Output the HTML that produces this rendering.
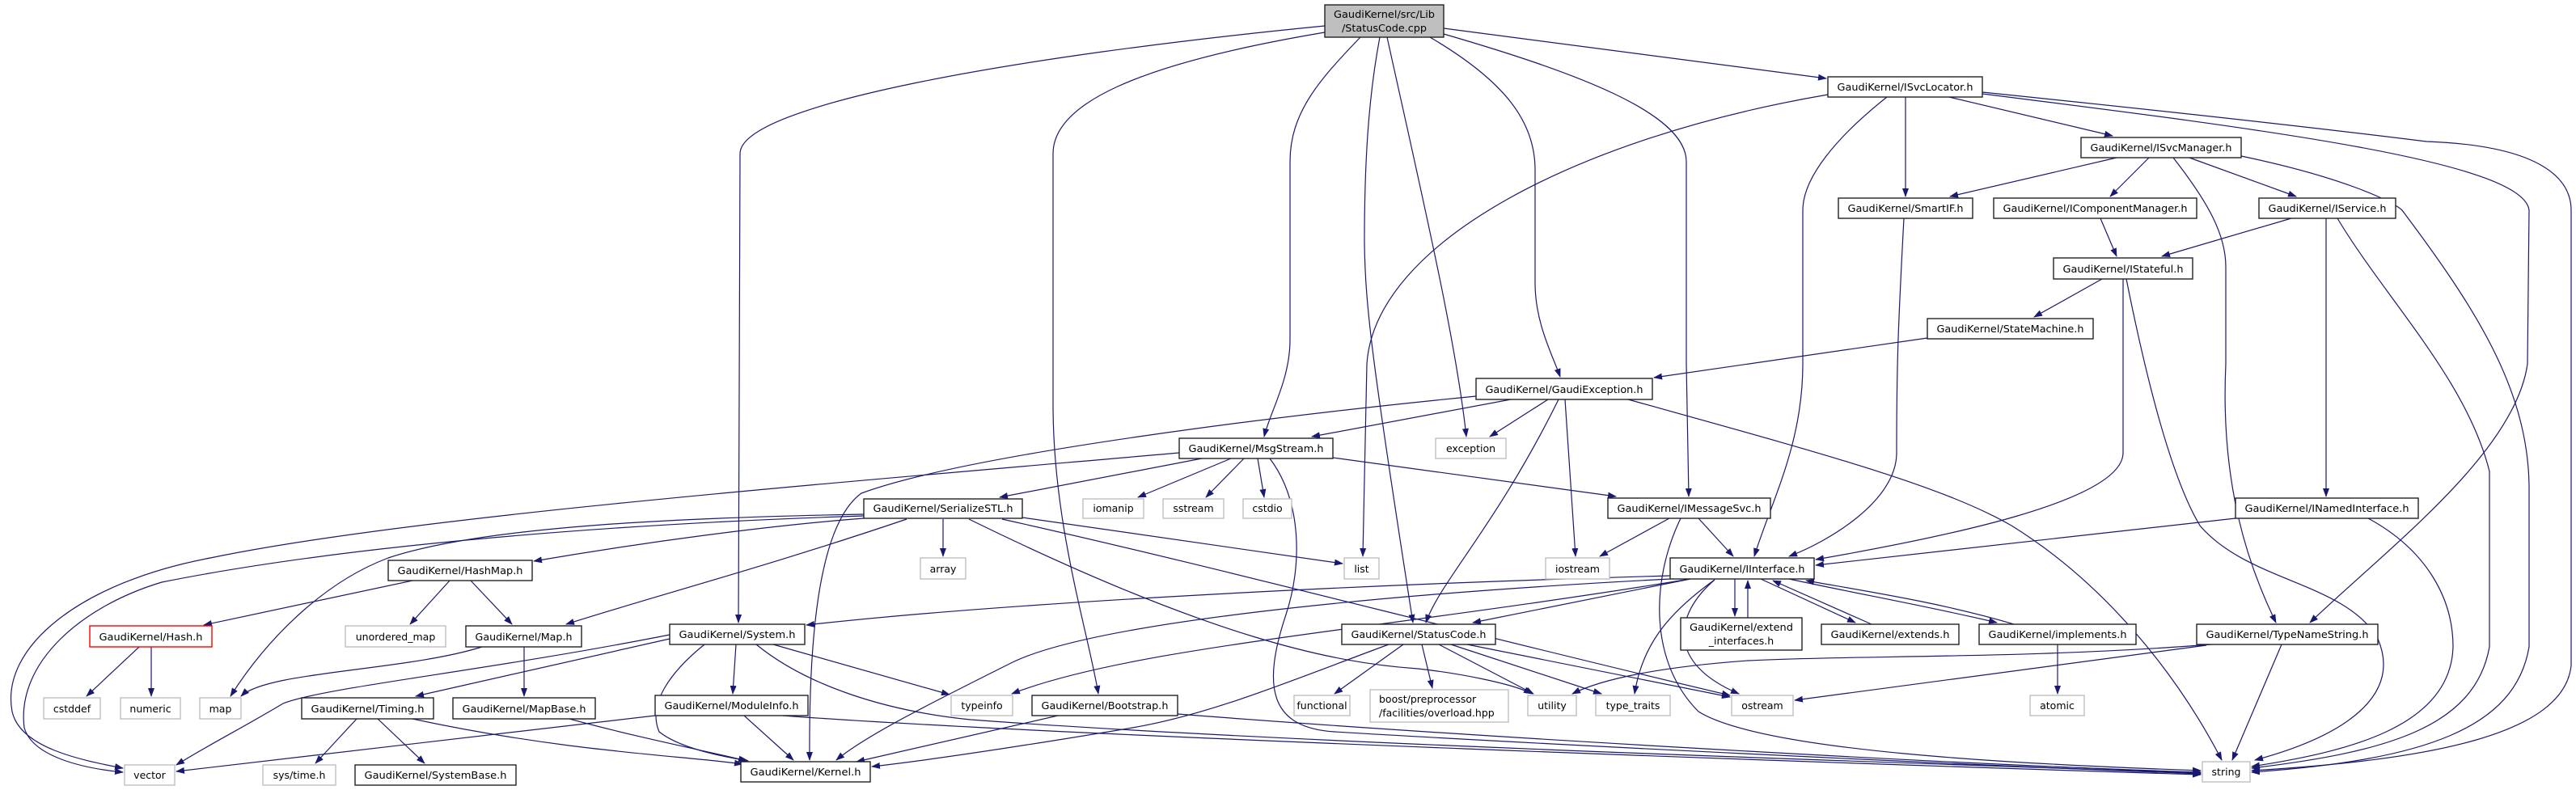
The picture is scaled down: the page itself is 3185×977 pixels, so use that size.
<!DOCTYPE html>
<html><head><meta charset="utf-8"><style>
html,body{margin:0;padding:0;background:#fff;}
svg{display:block;}
.e{fill:none;stroke:#191970;stroke-width:1.2;marker-end:url(#a);}
.n{fill:#fff;stroke:#222;stroke-width:1.4;}
.g{fill:#fff;stroke:#bfbfbf;stroke-width:1.4;}
text{font-family:"DejaVu Sans","Liberation Sans",sans-serif;font-size:12.5px;fill:#000;text-anchor:middle;}
</style></head><body>
<svg width="3185" height="977" viewBox="0 0 3185 977" xmlns="http://www.w3.org/2000/svg">
<defs><marker id="a" markerWidth="11" markerHeight="8" refX="10" refY="4" orient="auto" markerUnits="userSpaceOnUse"><path d="M0,0 L11,4 L0,8z" fill="#191970"/></marker></defs>
<g>
<path class="e" d="M1638,32 C1250,70 915,130 915,190 L913,770"/>
<path class="e" d="M1638,40 C1400,80 1302,130 1302,190 L1302,500 C1302,650 1345,780 1358,858"/>
<path class="e" d="M1682,46 C1630,100 1595,140 1595,200 L1595,420 C1595,470 1570,510 1563,540"/>
<path class="e" d="M1706,46 C1692,120 1687,200 1687,300 C1688,380 1697,450 1747,770"/>
<path class="e" d="M1715,46 C1760,250 1800,420 1813,540"/>
<path class="e" d="M1768,46 C1860,100 1898,150 1898,210 L1898,350 C1898,400 1920,440 1929,466"/>
<path class="e" d="M1785,42 C1950,90 2085,140 2085,200 L2085,450 L2088,614"/>
<path class="e" d="M1785,35 L2258,97"/>
<path class="e" d="M2260,117 C1950,170 1700,300 1690,450 L1685,688"/>
<path class="e" d="M2333,120 C2270,170 2229,220 2229,260 L2229,450 C2229,550 2190,620 2169,688"/>
<path class="e" d="M2356,120 L2356,243"/>
<path class="e" d="M2410,120 L2612,168"/>
<path class="e" d="M2451,116 C2800,160 3120,200 3127,260 L3125,450 C3110,560 2950,680 2856,770"/>
<path class="e" d="M2451,114 C2800,150 2960,170 3000,175 C3140,180 3179,220 3179,260 L3179,823 C3170,910 3000,940 2784,953"/>
<path class="e" d="M2617,195 L2411,243"/>
<path class="e" d="M2657,195 L2609,243"/>
<path class="e" d="M2707,195 L2839,243"/>
<path class="e" d="M2687,195 C2730,250 2752,290 2752,330 L2752,450 C2745,600 2780,700 2814,770"/>
<path class="e" d="M2771,193 C2900,220 2960,250 2970,260 C3060,380 3125,480 3127,600 L3127,800 C3110,900 3000,940 2784,955"/>
<path class="e" d="M2597,270 L2617,317"/>
<path class="e" d="M2833,270 L2673,317"/>
<path class="e" d="M2876,270 L2876,614"/>
<path class="e" d="M2890,270 C2950,370 3050,470 3078,583 L3078,800 C3060,900 2950,930 2784,950"/>
<path class="e" d="M2599,345 L2515,392"/>
<path class="e" d="M2625,345 L2625,560 C2625,620 2400,665 2245,692"/>
<path class="e" d="M2629,345 C2660,500 2690,600 2720,650 C2780,720 2900,720 2940,790 C2970,860 2900,910 2788,940"/>
<path class="e" d="M2383,418 L2045,467"/>
<path class="e" d="M2764,641 L2245,699"/>
<path class="e" d="M2928,641 C3000,680 3033,740 3033,800 C3030,900 2900,930 2784,948"/>
<path class="e" d="M2354,270 C2347,400 2345,450 2345,560 C2345,620 2260,670 2212,688"/>
<path class="e" d="M2544,797 L2544,858"/>
<path class="e" d="M2821,797 L2760,940"/>
<path class="e" d="M2734,797 C2500,815 2300,810 2161,817 C2050,825 1980,840 1944,858"/>
<path class="e" d="M2728,798 L2219,866"/>
<path class="e" d="M2145,716 L2145,762"/>
<path class="e" d="M2161,764 L2161,718"/>
<path class="e" d="M2177,716 L2294,770"/>
<path class="e" d="M2314,772 L2192,718"/>
<path class="e" d="M2212,716 C2300,735 2385,750 2469,770"/>
<path class="e" d="M2490,772 C2400,745 2300,730 2233,718"/>
<path class="e" d="M2090,716 L1821,770"/>
<path class="e" d="M2065,712 C1600,725 1200,750 997,773"/>
<path class="e" d="M2065,716 C1700,735 1350,770 1250,820 C1150,870 1070,910 1034,940"/>
<path class="e" d="M2090,716 C1700,780 1400,800 1251,858"/>
<path class="e" d="M2120,717 C2060,760 2030,800 2021,858"/>
<path class="e" d="M2120,717 C2070,760 2060,820 2150,858"/>
<path class="e" d="M2064,641 L1978,688"/>
<path class="e" d="M2100,641 L2143,688"/>
<path class="e" d="M2078,641 C2040,720 2040,820 2100,880 C2180,930 2500,945 2721,953"/>
<path class="e" d="M1648,566 L1998,614"/>
<path class="e" d="M1486,567 L1236,615"/>
<path class="e" d="M1522,567 L1407,615"/>
<path class="e" d="M1538,567 L1491,615"/>
<path class="e" d="M1555,567 L1563,615"/>
<path class="e" d="M1570,567 C1610,620 1610,700 1590,760 C1560,850 1570,900 1650,905 C1900,920 2400,945 2721,957"/>
<path class="e" d="M1458,560 C1000,600 500,640 260,690 C100,720 0,800 15,880 C25,925 100,940 152,950"/>
<path class="e" d="M1068,638 C700,650 400,680 200,720 C100,750 20,820 30,900 C40,935 100,950 152,955"/>
<path class="e" d="M1068,636 C850,640 600,650 480,690 C400,720 330,790 285,861"/>
<path class="e" d="M1068,641 C950,650 800,670 660,694"/>
<path class="e" d="M1121,642 C950,700 800,740 700,772"/>
<path class="e" d="M1264,640 L1660,697"/>
<path class="e" d="M1239,642 C1500,700 1800,780 2139,860"/>
<path class="e" d="M1198,642 C1500,790 1650,820 1753,827 C1800,832 1870,845 1894,858"/>
<path class="e" d="M1166,642 L1166,688"/>
<path class="e" d="M510,718 L252,773"/>
<path class="e" d="M556,718 L507,772"/>
<path class="e" d="M582,718 L633,772"/>
<path class="e" d="M172,800 L107,861"/>
<path class="e" d="M187,800 L187,861"/>
<path class="e" d="M596,800 C500,830 330,830 298,861"/>
<path class="e" d="M648,800 L648,861"/>
<path class="e" d="M704,889 C800,915 880,930 923,941"/>
<path class="e" d="M441,889 L390,944"/>
<path class="e" d="M467,889 L525,944"/>
<path class="e" d="M510,889 C700,930 850,935 918,945"/>
<path class="e" d="M828,790 L514,861"/>
<path class="e" d="M828,785 C600,830 400,850 350,870 C300,900 260,920 218,946"/>
<path class="e" d="M910,797 L906,858"/>
<path class="e" d="M871,797 C830,830 800,870 815,905 C840,925 890,935 925,941"/>
<path class="e" d="M956,797 L1174,859"/>
<path class="e" d="M935,797 C1000,850 1100,880 1200,890 C1600,920 2400,945 2721,956"/>
<path class="e" d="M810,885 L218,954"/>
<path class="e" d="M920,885 L981,940"/>
<path class="e" d="M968,885 C1300,910 2300,945 2721,958"/>
<path class="e" d="M1308,885 L1059,942"/>
<path class="e" d="M1456,883 C1800,910 2400,945 2721,955"/>
<path class="e" d="M1717,797 C1600,840 1500,883 1400,900 C1250,925 1150,940 1078,948"/>
<path class="e" d="M1735,797 L1650,858"/>
<path class="e" d="M1758,797 L1771,851"/>
<path class="e" d="M1779,797 L1896,858"/>
<path class="e" d="M1794,797 L1980,858"/>
<path class="e" d="M1814,797 L2139,862"/>
<path class="e" d="M1868,494 L1622,540"/>
<path class="e" d="M1914,494 L1842,540"/>
<path class="e" d="M1927,494 C1850,650 1780,720 1763,770"/>
<path class="e" d="M1935,494 L1948,688"/>
<path class="e" d="M1825,490 C1600,512 1200,560 1065,610 C1010,650 1000,800 1001,940"/>
<path class="e" d="M2013,494 C2250,560 2400,600 2487,650 C2600,720 2690,830 2747,940"/>
</g>
<g>
<rect x="1638" y="6" width="147" height="40" fill="#bfbfbf" stroke="#222" stroke-width="1.4"/>
<text x="1711.5" y="22" textLength="125" lengthAdjust="spacingAndGlyphs">GaudiKernel/src/Lib</text>
<text x="1711.5" y="39" textLength="105" lengthAdjust="spacingAndGlyphs">/StatusCode.cpp</text>

<rect class="n" x="2260" y="95" width="191" height="25"/><text x="2355.5" y="112" textLength="168" lengthAdjust="spacingAndGlyphs">GaudiKernel/ISvcLocator.h</text>
<rect class="n" x="2573" y="170" width="198" height="25"/><text x="2672" y="187" textLength="175" lengthAdjust="spacingAndGlyphs">GaudiKernel/ISvcManager.h</text>
<rect class="n" x="2273" y="245" width="166" height="25"/><text x="2356" y="262" textLength="143" lengthAdjust="spacingAndGlyphs">GaudiKernel/SmartIF.h</text>
<rect class="n" x="2465" y="245" width="251" height="25"/><text x="2590.5" y="262" textLength="228" lengthAdjust="spacingAndGlyphs">GaudiKernel/IComponentManager.h</text>
<rect class="n" x="2793" y="245" width="169" height="25"/><text x="2877.5" y="262" textLength="146" lengthAdjust="spacingAndGlyphs">GaudiKernel/IService.h</text>
<rect class="n" x="2539" y="319" width="172" height="26"/><text x="2625" y="337" textLength="149" lengthAdjust="spacingAndGlyphs">GaudiKernel/IStateful.h</text>
<rect class="n" x="2383" y="394" width="205" height="25"/><text x="2485.5" y="411" textLength="182" lengthAdjust="spacingAndGlyphs">GaudiKernel/StateMachine.h</text>
<rect class="n" x="1825" y="468" width="218" height="26"/><text x="1934" y="486" textLength="195" lengthAdjust="spacingAndGlyphs">GaudiKernel/GaudiException.h</text>
<rect class="n" x="1458" y="542" width="190" height="25"/><text x="1553" y="559" textLength="167" lengthAdjust="spacingAndGlyphs">GaudiKernel/MsgStream.h</text>
<rect class="g" x="1775" y="542" width="87" height="25"/><text x="1818.5" y="559">exception</text>
<rect class="n" x="1068" y="617" width="196" height="24"/><text x="1166" y="633" textLength="173" lengthAdjust="spacingAndGlyphs">GaudiKernel/SerializeSTL.h</text>
<rect class="g" x="1339" y="617" width="75" height="24"/><text x="1376.5" y="633">iomanip</text>
<rect class="g" x="1438" y="617" width="75" height="24"/><text x="1475.5" y="633">sstream</text>
<rect class="g" x="1537" y="617" width="60" height="24"/><text x="1567" y="633">cstdio</text>
<rect class="n" x="1988" y="616" width="201" height="25"/><text x="2088.5" y="633" textLength="178" lengthAdjust="spacingAndGlyphs">GaudiKernel/IMessageSvc.h</text>
<rect class="n" x="2764" y="616" width="226" height="25"/><text x="2877" y="633" textLength="203" lengthAdjust="spacingAndGlyphs">GaudiKernel/INamedInterface.h</text>
<rect class="g" x="1138" y="690" width="56" height="26"/><text x="1166" y="708">array</text>
<rect class="g" x="1662" y="690" width="43" height="26"/><text x="1683.5" y="708">list</text>
<rect class="g" x="1911" y="690" width="79" height="26"/><text x="1950.5" y="708">iostream</text>
<rect class="n" x="2065" y="690" width="178" height="26"/><text x="2154" y="708" textLength="155" lengthAdjust="spacingAndGlyphs">GaudiKernel/IInterface.h</text>
<rect class="n" x="480" y="693" width="178" height="25"/><text x="569" y="710" textLength="155" lengthAdjust="spacingAndGlyphs">GaudiKernel/HashMap.h</text>
<rect class="n" x="828" y="772" width="167" height="25"/><text x="911.5" y="789" textLength="144" lengthAdjust="spacingAndGlyphs">GaudiKernel/System.h</text>
<rect class="n" x="1659" y="772" width="190" height="25"/><text x="1754" y="789" textLength="167" lengthAdjust="spacingAndGlyphs">GaudiKernel/StatusCode.h</text>
<rect class="n" x="2078" y="764" width="150" height="40"/><text x="2153" y="780" textLength="128" lengthAdjust="spacingAndGlyphs">GaudiKernel/extend</text><text x="2153" y="797">_interfaces.h</text>
<rect class="n" x="2252" y="772" width="170" height="25"/><text x="2337" y="789" textLength="147" lengthAdjust="spacingAndGlyphs">GaudiKernel/extends.h</text>
<rect class="n" x="2447" y="772" width="194" height="25"/><text x="2544" y="789" textLength="171" lengthAdjust="spacingAndGlyphs">GaudiKernel/implements.h</text>
<rect class="n" x="2716" y="772" width="224" height="25"/><text x="2828" y="789" textLength="201" lengthAdjust="spacingAndGlyphs">GaudiKernel/TypeNameString.h</text>
<rect x="111" y="774" width="151" height="26" fill="#fff" stroke="#ff0000" stroke-width="1.4"/><text x="186.5" y="792" textLength="128" lengthAdjust="spacingAndGlyphs">GaudiKernel/Hash.h</text>
<rect class="g" x="427" y="774" width="124" height="26"/><text x="489" y="792">unordered_map</text>
<rect class="n" x="576" y="774" width="143" height="26"/><text x="647.5" y="792" textLength="120" lengthAdjust="spacingAndGlyphs">GaudiKernel/Map.h</text>
<rect class="g" x="54" y="863" width="70" height="26"/><text x="89" y="881">cstddef</text>
<rect class="g" x="149" y="863" width="74" height="26"/><text x="186" y="881">numeric</text>
<rect class="g" x="247" y="863" width="51" height="26"/><text x="272.5" y="881">map</text>
<rect class="n" x="373" y="863" width="163" height="26"/><text x="454.5" y="881" textLength="140" lengthAdjust="spacingAndGlyphs">GaudiKernel/Timing.h</text>
<rect class="n" x="560" y="863" width="176" height="26"/><text x="648" y="881" textLength="153" lengthAdjust="spacingAndGlyphs">GaudiKernel/MapBase.h</text>
<rect class="n" x="810" y="860" width="189" height="25"/><text x="904.5" y="877" textLength="166" lengthAdjust="spacingAndGlyphs">GaudiKernel/ModuleInfo.h</text>
<rect class="g" x="1176" y="860" width="76" height="25"/><text x="1214" y="877">typeinfo</text>
<rect class="n" x="1276" y="860" width="180" height="25"/><text x="1366" y="877" textLength="157" lengthAdjust="spacingAndGlyphs">GaudiKernel/Bootstrap.h</text>
<rect class="g" x="1600" y="860" width="69" height="25"/><text x="1634.5" y="877">functional</text>
<rect class="g" x="1694" y="853" width="171" height="40"/><text x="1705" y="869" style="text-anchor:start">boost/preprocessor</text><text x="1705" y="886" style="text-anchor:start">/facilities/overload.hpp</text>
<rect class="g" x="1889" y="860" width="60" height="25"/><text x="1919" y="877">utility</text>
<rect class="g" x="1973" y="860" width="92" height="25"/><text x="2019" y="877">type_traits</text>
<rect class="g" x="2141" y="860" width="76" height="25"/><text x="2179" y="877">ostream</text>
<rect class="g" x="2510" y="860" width="67" height="25"/><text x="2543.5" y="877">atomic</text>
<rect class="g" x="154" y="946" width="62" height="25"/><text x="185" y="963">vector</text>
<rect class="g" x="325" y="946" width="90" height="25"/><text x="370" y="963">sys/time.h</text>
<rect class="n" x="439" y="946" width="199" height="25"/><text x="538.5" y="963" textLength="176" lengthAdjust="spacingAndGlyphs">GaudiKernel/SystemBase.h</text>
<rect class="n" x="916" y="942" width="160" height="25"/><text x="996" y="959" textLength="137" lengthAdjust="spacingAndGlyphs">GaudiKernel/Kernel.h</text>
<rect class="g" x="2723" y="942" width="59" height="25"/><text x="2752.5" y="959">string</text>
</g>
</svg>
</body></html>
